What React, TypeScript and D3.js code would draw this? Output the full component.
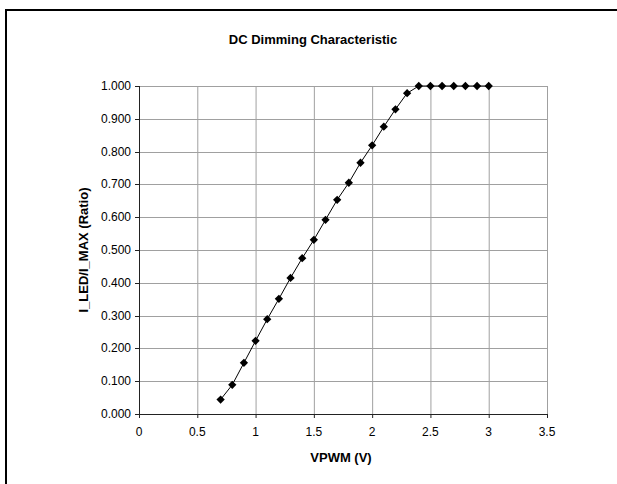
import React from "react";
import * as d3 from "d3";

const vpwm = [0.7, 0.8, 0.9, 1.0, 1.1, 1.2, 1.3, 1.4, 1.5, 1.6, 1.7, 1.8, 1.9, 2.0, 2.1, 2.2, 2.3, 2.4, 2.5, 2.6, 2.7, 2.8, 2.9, 3.0];
const ratio = [0.044, 0.089, 0.156, 0.223, 0.289, 0.351, 0.415, 0.475, 0.531, 0.592, 0.653, 0.705, 0.766, 0.819, 0.876, 0.929, 0.978, 1.0, 1.0, 1.0, 1.0, 1.0, 1.0, 1.0];
const xTicks = [0, 0.5, 1, 1.5, 2, 2.5, 3, 3.5];
const yTicks = [0, 0.1, 0.2, 0.3, 0.4, 0.5, 0.6, 0.7, 0.8, 0.9, 1.0];

const title = "DC Dimming Characteristic";
const xTitle = "VPWM (V)";
const yTitle = "I_LED/I_MAX (Ratio)";

export default function App() {
  const W = 617, H = 484;
  const left = 139, right = 547, top = 86, bottom = 414;
  const x = d3.scaleLinear().domain([0, 3.5]).range([left, right]);
  const y = d3.scaleLinear().domain([0, 1]).range([bottom, top]);
  const line = d3.line<number>().x((_, i) => x(vpwm[i])).y((d) => y(d));
  const font = "Arial, 'Liberation Sans', sans-serif";
  const diamond = d3.symbol().type(d3.symbolDiamond2).size(44)() as string;
  return (
    <svg width={W} height={H} style={{ position: "absolute", left: 0, top: 0 }}>
      <rect x={0} y={0} width={W} height={H} fill="#fff" />
      <line x1={6} x2={6} y1={9} y2={H} stroke="#000" strokeWidth={2} />
      <line x1={5} x2={W} y1={10} y2={10} stroke="#000" strokeWidth={2} />
      <text x={313} y={44} textAnchor="middle" fontFamily={font} fontWeight="bold" fontSize={13}>{title}</text>
      {xTicks.slice(1).map((t) => (
        <line key={"gx" + t} x1={x(t) + 0.5} x2={x(t) + 0.5} y1={top} y2={bottom} stroke="#a0a0a0" strokeWidth={1} />
      ))}
      {yTicks.slice(1).map((t) => (
        <line key={"gy" + t} x1={left} x2={right} y1={Math.round(y(t)) + 0.5} y2={Math.round(y(t)) + 0.5} stroke="#a0a0a0" strokeWidth={1} />
      ))}
      <line x1={left + 0.5} x2={left + 0.5} y1={top} y2={bottom + 0.5} stroke="#222" strokeWidth={1} />
      <line x1={left} x2={right + 1} y1={bottom + 0.5} y2={bottom + 0.5} stroke="#222" strokeWidth={1} />
      {yTicks.map((t) => (
        <g key={"ty" + t}>
          <line x1={left - 4} x2={left} y1={Math.round(y(t)) + 0.5} y2={Math.round(y(t)) + 0.5} stroke="#222" />
          <text x={left - 8} y={y(t) + 4} textAnchor="end" fontFamily={font} fontSize={12} fill="#000">{t.toFixed(3)}</text>
        </g>
      ))}
      {xTicks.map((t) => (
        <g key={"tx" + t}>
          <line x1={x(t) + 0.5} x2={x(t) + 0.5} y1={bottom} y2={bottom + 4} stroke="#222" />
          <text x={x(t)} y={bottom + 22} textAnchor="middle" fontFamily={font} fontSize={12} fill="#000">{String(t)}</text>
        </g>
      ))}
      <text x={341} y={462} textAnchor="middle" fontFamily={font} fontWeight="bold" fontSize={13}>{xTitle}</text>
      <text transform={`translate(88,${(top + bottom) / 2}) rotate(-90)`} textAnchor="middle" fontFamily={font} fontWeight="bold" fontSize={13}>{yTitle}</text>
      <path d={line(ratio) as string} fill="none" stroke="#000" strokeWidth={1} />
      {ratio.map((v, i) => (
        <path key={"m" + i} d={diamond} transform={`translate(${x(vpwm[i])},${y(v)})`} fill="#000" />
      ))}
    </svg>
  );
}
